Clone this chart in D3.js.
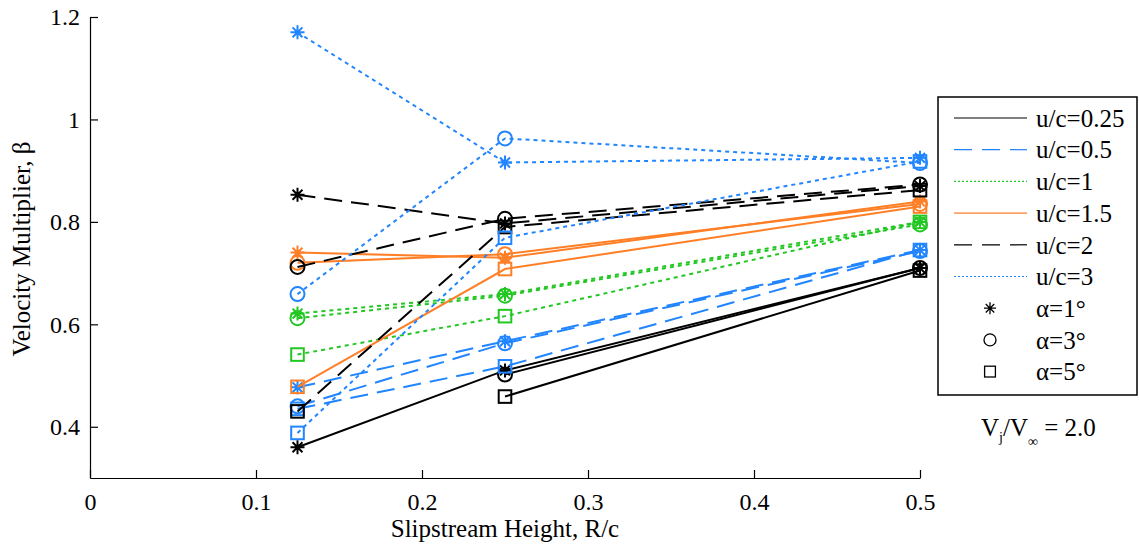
<!DOCTYPE html>
<html>
<head>
<meta charset="utf-8">
<script src="https://cdnjs.cloudflare.com/ajax/libs/d3/7.8.5/d3.min.js"></script>
<style>
  body { margin: 0; background: #fff; }
  text { font-family: "Liberation Serif", "Times New Roman", serif; }
</style>
</head>
<body>
<svg id="chart" width="1139" height="546"></svg>
<script>
// x positions (slipstream height R/c)
const xVals = [0.125, 0.25, 0.5];
const xTicks = [0, 0.1, 0.2, 0.3, 0.4, 0.5];
const yTicks = [0.4, 0.6, 0.8, 1, 1.2];
// series names
const ucLabels = ["u/c=0.25", "u/c=0.5", "u/c=1", "u/c=1.5", "u/c=2", "u/c=3"];
const alphaLabels = ["α=1°", "α=3°", "α=5°"];
// values per u/c, one row per alpha (1, 3, 5 deg), null = no point
const uc025 = [[0.36, 0.51, 0.71], [null, 0.502, 0.71], [null, 0.459, 0.705]];
const uc05  = [[0.477, 0.567, 0.745], [0.44, 0.563, 0.743], [0.435, 0.518, 0.745]];
const uc1   = [[0.621, 0.659, 0.80], [0.612, 0.656, 0.795], [0.541, 0.616, 0.80]];
const uc15  = [[0.74, 0.73, 0.84], [0.72, 0.737, 0.835], [0.478, 0.708, 0.83]];
const uc2   = [[0.853, 0.797, 0.87], [0.712, 0.806, 0.873], [0.43, 0.79, 0.862]];
const uc3   = [[1.17, 0.916, 0.925], [0.659, 0.963, 0.915], [0.388, 0.769, 0.918]];
const allSeries = [uc025, uc05, uc1, uc15, uc2, uc3];

//style for each u/c
const colors = ["#000000", "#2185ff", "#22c722", "#ff7f27", "#000000", "#2185ff"];
const dashes = [null, "18,9", "4,4", null, "18,9", "4,4"];
const legendDashes = [null, "18,10", "2,2", null, "18,10", "2,2"];
const markers = ["star", "circle", "square"];
const serif = "Liberation Serif, Times New Roman, serif";

const svg = d3.select("#chart");
const margin = {left: 90, top: 17, right: 219, bottom: 68};
const width = 1139, height = 546;

const xScale = d3.scaleLinear().domain([0, 0.5]).range([margin.left, 920]);
const yScale = d3.scaleLinear().domain([0.3, 1.2]).range([height - margin.bottom, margin.top]);

// axes, matlab style ticks pointing inward
const xAxis = d3.axisBottom(xScale).tickValues(xTicks).tickSizeInner(-8).tickSizeOuter(0)
  .tickPadding(15).tickFormat(d => d === 0 ? "0" : d3.format(".1f")(d));
const yAxis = d3.axisLeft(yScale).tickValues(yTicks).tickSizeInner(-8).tickSizeOuter(0)
  .tickPadding(10).tickFormat(d => d === 1 ? "1" : d3.format(".1f")(d));

const gx = svg.append("g").attr("transform", "translate(0," + yScale(0.3) + ")").call(xAxis);
const gy = svg.append("g").attr("transform", "translate(" + margin.left + ",0)").call(yAxis);
[gx, gy].forEach(g => {
  g.attr("font-family", serif).attr("font-size", 24);
  g.selectAll("text").attr("font-size", "24px").attr("fill", "#000")
    .style("font-family", serif);
  g.selectAll("line, path").attr("stroke", "#000").attr("stroke-width", 1.2);
});
gx.selectAll("text").attr("dy", "0.71em");

svg.append("text")
  .attr("x", xScale(0.25)).attr("y", 537)
  .attr("text-anchor", "middle").attr("font-size", "25px")
  .text("Slipstream Height, R/c");
svg.append("text")
  .attr("transform", "translate(30,249) rotate(-90)")
  .attr("text-anchor", "middle").attr("font-size", "25px")
  .text("Velocity Multiplier, β");

//draws a marker of a given type at (0,0)
function drawMarker(g, type, color, size) {
  if (type === "circle") {
    g.append("circle").attr("r", size).attr("fill", "none")
      .attr("stroke", color).attr("stroke-width", 2);
  } else if (type === "square") {
    g.append("rect").attr("x", -size * 0.9).attr("y", -size * 0.9)
      .attr("width", size * 1.8).attr("height", size * 1.8)
      .attr("fill", "none").attr("stroke", color).attr("stroke-width", 2);
  } else {
    const s = size;
    const d = s * Math.SQRT1_2;
    const p = "M" + (-s) + ",0L" + s + ",0M0," + (-s) + "L0," + s +
      "M" + (-d) + "," + (-d) + "L" + d + "," + d + "M" + (-d) + "," + d + "L" + d + "," + (-d);
    g.append("path").attr("d", p).attr("stroke", color).attr("stroke-width", 2).attr("fill", "none");
  }
}

const line = d3.line()
  .defined(d => d.y !== null)
  .x(d => xScale(d.x))
  .y(d => yScale(d.y));

const plot = svg.append("g");
allSeries.forEach((rows, si) => {
  rows.forEach((vals, ai) => {
    const pts = vals.map((v, i) => ({x: xVals[i], y: v}));
    plot.append("path")
      .datum(pts)
      .attr("d", line)
      .attr("fill", "none")
      .attr("stroke", colors[si])
      .attr("stroke-width", 2)
      .attr("stroke-dasharray", dashes[si]);
    pts.filter(p => p.y !== null).forEach(p => {
      const g = plot.append("g")
        .attr("transform", "translate(" + xScale(p.x) + "," + yScale(p.y) + ")");
      drawMarker(g, markers[ai], colors[si], 7);
    });
  });
});

// legend box
const lx = 938, ly = 97, lw = 199, lh = 298, rowH = 31.7;
const legend = svg.append("g");
legend.append("rect").attr("x", lx).attr("y", ly).attr("width", lw).attr("height", lh)
  .attr("fill", "#fff").attr("stroke", "#000").attr("stroke-width", 1.5);
ucLabels.forEach((lab, i) => {
  const y = ly + 21 + i * rowH;
  legend.append("line").attr("x1", 954).attr("x2", 1027).attr("y1", y).attr("y2", y)
    .attr("stroke", colors[i]).attr("stroke-width", 1.2)
    .attr("stroke-dasharray", legendDashes[i]);
  legend.append("text").attr("x", 1036).attr("y", y).attr("dy", "0.35em")
    .attr("font-size", "25px").text(lab);
});
alphaLabels.forEach((lab, i) => {
  const y = ly + 21 + (i + 6) * rowH;
  const g = legend.append("g").attr("transform", "translate(990," + y + ")");
  drawMarker(g, markers[i], "#000", 6);
  g.selectAll("*").attr("stroke-width", 1.3);
  legend.append("text").attr("x", 1036).attr("y", y).attr("dy", "0.35em")
    .attr("font-size", "25px").text(lab);
});

// velocity ratio note
const note = svg.append("text").attr("x", 981).attr("y", 436).attr("font-size", "25px");
note.append("tspan").text("V");
note.append("tspan").attr("font-size", "14px").attr("dy", 6).text("j");
note.append("tspan").attr("dy", -6).text("/V");
note.append("tspan").attr("font-size", "14px").attr("dy", 10).text("∞");
note.append("tspan").attr("dy", -10).text(" = 2.0");
</script>
</body>
</html>
